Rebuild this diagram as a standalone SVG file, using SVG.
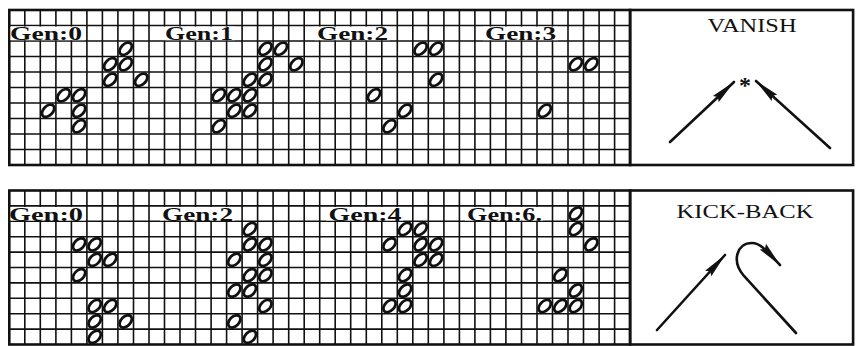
<svg xmlns="http://www.w3.org/2000/svg" width="857" height="346" viewBox="0 0 857 346">
<style>
.grid{fill:none;stroke:#111;stroke-width:1.6}
.border{fill:none;stroke:#111;stroke-width:2.6}
.lbl{font-family:"Liberation Serif","DejaVu Serif",serif;font-size:18px;font-weight:bold;fill:#111}
.bg{fill:#fff}
.title{font-family:"Liberation Serif","DejaVu Serif",serif;font-size:18px;fill:#111}
.star{font-family:"Liberation Serif","DejaVu Serif",serif;font-size:24px;font-weight:bold;fill:#111}
.arrow{fill:none;stroke:#111;stroke-width:2.6;stroke-linecap:round}
</style>
<defs>
<ellipse id="o" cx="0" cy="0" rx="7.3" ry="4.7" transform="rotate(-45)" fill="#fff" stroke="#111" stroke-width="2.8"/>
<marker id="ah" viewBox="0 0 26 10" refX="25" refY="5" markerWidth="26" markerHeight="10" markerUnits="userSpaceOnUse" orient="auto">
<path d="M0,0.8 L26,5 L0,9.2 L3,5 Z" fill="#111"/>
</marker>
</defs>
<rect width="857" height="346" fill="#fff"/>

<g id="top-grid">
<path class="grid" d="M24.8,10V165M40.3,10V165M55.9,10V165M71.4,10V165M86.9,10V165M102.4,10V165M117.9,10V165M133.5,10V165M149,10V165M164.5,10V165M180,10V165M195.5,10V165M211.1,10V165M226.6,10V165M242.1,10V165M257.6,10V165M273.1,10V165M288.7,10V165M304.2,10V165M319.7,10V165M335.2,10V165M350.7,10V165M366.3,10V165M381.8,10V165M397.3,10V165M412.8,10V165M428.3,10V165M443.9,10V165M459.4,10V165M474.9,10V165M490.4,10V165M505.9,10V165M521.5,10V165M537,10V165M552.5,10V165M568,10V165M583.5,10V165M599.1,10V165M614.6,10V165M9.3,25.5H630M9.3,41H630M9.3,56.5H630M9.3,72H630M9.3,87.5H630M9.3,103H630M9.3,118.5H630M9.3,134H630M9.3,149.5H630"/>
<rect class="border" x="9.3" y="10" width="620.8" height="155"/>
</g>

<g id="bottom-grid">
<path class="grid" d="M24.8,190.5V344.5M40.3,190.5V344.5M55.9,190.5V344.5M71.4,190.5V344.5M86.9,190.5V344.5M102.4,190.5V344.5M117.9,190.5V344.5M133.5,190.5V344.5M149,190.5V344.5M164.5,190.5V344.5M180,190.5V344.5M195.5,190.5V344.5M211.1,190.5V344.5M226.6,190.5V344.5M242.1,190.5V344.5M257.6,190.5V344.5M273.1,190.5V344.5M288.7,190.5V344.5M304.2,190.5V344.5M319.7,190.5V344.5M335.2,190.5V344.5M350.7,190.5V344.5M366.3,190.5V344.5M381.8,190.5V344.5M397.3,190.5V344.5M412.8,190.5V344.5M428.3,190.5V344.5M443.9,190.5V344.5M459.4,190.5V344.5M474.9,190.5V344.5M490.4,190.5V344.5M505.9,190.5V344.5M521.5,190.5V344.5M537,190.5V344.5M552.5,190.5V344.5M568,190.5V344.5M583.5,190.5V344.5M599.1,190.5V344.5M614.6,190.5V344.5M9.3,205.9H630M9.3,221.3H630M9.3,236.7H630M9.3,252.1H630M9.3,267.5H630M9.3,282.9H630M9.3,298.3H630M9.3,313.7H630M9.3,329.1H630"/>
<rect class="border" x="9.3" y="190.5" width="620.8" height="154"/>
</g>

<g id="top-labels">
<rect class="bg" x="10.5" y="26.6" width="74" height="13.6"/>
<text class="lbl" x="10" y="40" textLength="72" lengthAdjust="spacingAndGlyphs">Gen:0</text>
<rect class="bg" x="163" y="26.6" width="72" height="13.6"/>
<text class="lbl" x="165" y="40" textLength="68" lengthAdjust="spacingAndGlyphs">Gen:1</text>
<rect class="bg" x="315" y="26.6" width="75" height="13.6"/>
<text class="lbl" x="317" y="40" textLength="71" lengthAdjust="spacingAndGlyphs">Gen:2</text>
<rect class="bg" x="483" y="26.6" width="75" height="13.6"/>
<text class="lbl" x="485" y="40" textLength="71" lengthAdjust="spacingAndGlyphs">Gen:3</text>
</g>

<g id="bottom-labels">
<rect class="bg" x="10.5" y="207" width="75" height="13.5"/>
<text class="lbl" x="9" y="220.5" textLength="74" lengthAdjust="spacingAndGlyphs">Gen:0</text>
<rect class="bg" x="160" y="207" width="75" height="13.5"/>
<text class="lbl" x="162" y="220.5" textLength="71" lengthAdjust="spacingAndGlyphs">Gen:2</text>
<rect class="bg" x="326" y="207" width="77" height="13.5"/>
<text class="lbl" x="328.5" y="220.5" textLength="73" lengthAdjust="spacingAndGlyphs">Gen:4</text>
<rect class="bg" x="465" y="207" width="78" height="13.5"/>
<text class="lbl" x="467" y="220.5" textLength="75" lengthAdjust="spacingAndGlyphs">Gen:6.</text>
</g>

<g id="top-gen0">
<use href="#o" x="125.7" y="48.75"/><use href="#o" x="110.2" y="64.25"/><use href="#o" x="125.7" y="64.25"/><use href="#o" x="110.2" y="79.75"/><use href="#o" x="141.2" y="79.75"/>
<use href="#o" x="63.6" y="95.25"/><use href="#o" x="79.1" y="95.25"/><use href="#o" x="48.1" y="110.75"/><use href="#o" x="79.1" y="110.75"/><use href="#o" x="79.1" y="126.25"/>
</g>
<g id="top-gen1">
<use href="#o" x="265.4" y="48.75"/><use href="#o" x="280.9" y="48.75"/><use href="#o" x="265.4" y="64.25"/><use href="#o" x="296.4" y="64.25"/>
<use href="#o" x="249.9" y="79.75"/><use href="#o" x="265.4" y="79.75"/><use href="#o" x="218.8" y="95.25"/><use href="#o" x="234.3" y="95.25"/><use href="#o" x="249.9" y="95.25"/>
<use href="#o" x="234.3" y="110.75"/><use href="#o" x="249.9" y="110.75"/><use href="#o" x="218.8" y="126.25"/>
</g>
<g id="top-gen2">
<use href="#o" x="420.6" y="48.75"/><use href="#o" x="436.1" y="48.75"/><use href="#o" x="436.1" y="79.75"/><use href="#o" x="374" y="95.25"/><use href="#o" x="405.1" y="110.75"/><use href="#o" x="389.5" y="126.25"/>
</g>
<g id="top-gen3">
<use href="#o" x="575.8" y="64.25"/><use href="#o" x="591.3" y="64.25"/><use href="#o" x="544.7" y="110.75"/>
</g>

<g id="bottom-gen0">
<use href="#o" x="79.1" y="244.4"/><use href="#o" x="94.7" y="244.4"/><use href="#o" x="94.7" y="259.8"/><use href="#o" x="110.2" y="259.8"/><use href="#o" x="79.1" y="275.2"/>
<use href="#o" x="94.7" y="306"/><use href="#o" x="110.2" y="306"/><use href="#o" x="94.7" y="321.4"/><use href="#o" x="125.7" y="321.4"/><use href="#o" x="94.7" y="336.8"/>
</g>
<g id="bottom-gen2">
<use href="#o" x="249.9" y="229"/><use href="#o" x="249.9" y="244.4"/><use href="#o" x="265.4" y="244.4"/><use href="#o" x="234.3" y="259.8"/><use href="#o" x="265.4" y="259.8"/>
<use href="#o" x="249.9" y="275.2"/><use href="#o" x="265.4" y="275.2"/><use href="#o" x="234.3" y="290.6"/><use href="#o" x="249.9" y="290.6"/><use href="#o" x="265.4" y="306"/>
<use href="#o" x="234.3" y="321.4"/><use href="#o" x="249.9" y="336.8"/>
</g>
<g id="bottom-gen4">
<use href="#o" x="405.1" y="229"/><use href="#o" x="420.6" y="229"/><use href="#o" x="389.5" y="244.4"/><use href="#o" x="420.6" y="244.4"/><use href="#o" x="436.1" y="244.4"/>
<use href="#o" x="420.6" y="259.8"/><use href="#o" x="436.1" y="259.8"/><use href="#o" x="405.1" y="275.2"/><use href="#o" x="405.1" y="290.6"/><use href="#o" x="389.5" y="306"/><use href="#o" x="405.1" y="306"/>
</g>
<g id="bottom-gen6">
<use href="#o" x="575.8" y="213.6"/><use href="#o" x="575.8" y="229"/><use href="#o" x="591.3" y="244.4"/><use href="#o" x="560.3" y="275.2"/>
<use href="#o" x="575.8" y="290.6"/><use href="#o" x="544.7" y="306"/><use href="#o" x="560.3" y="306"/><use href="#o" x="575.8" y="306"/>
</g>

<g id="vanish">
<rect class="border" x="630.1" y="10" width="223" height="155"/>
<text class="title" x="752" y="32" text-anchor="middle" textLength="89" lengthAdjust="spacingAndGlyphs">VANISH</text>
<text class="star" x="745" y="93" text-anchor="middle">*</text>
</g>
<g id="kickback">
<rect class="border" x="630.1" y="190.5" width="223" height="154"/>
<text class="title" x="745" y="218" text-anchor="middle" textLength="137" lengthAdjust="spacingAndGlyphs">KICK-BACK</text>
</g>

<g id="connectors">
<path class="arrow" d="M670,142 L734,82" marker-end="url(#ah)"/>
<path class="arrow" d="M830,148 L756,81" marker-end="url(#ah)"/>
<path class="arrow" d="M657,330 L725,255" marker-end="url(#ah)"/>
<path class="arrow" d="M796,333 L744,276 C731,261 737,243 752,243 C760,243 766,250 780,265" marker-end="url(#ah)"/>
</g>
</svg>
